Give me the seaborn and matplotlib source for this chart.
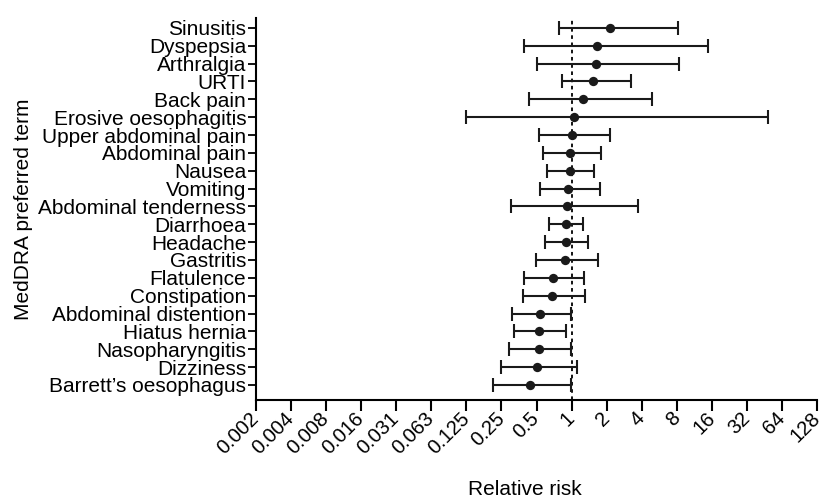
import numpy as np
import pandas as pd
import matplotlib
matplotlib.use("Agg")
import matplotlib.pyplot as plt
import seaborn as sns

terms = ["Sinusitis", "Dyspepsia", "Arthralgia", "URTI", "Back pain",
         "Erosive oesophagitis", "Upper abdominal pain", "Abdominal pain",
         "Nausea", "Vomiting", "Abdominal tenderness", "Diarrhoea", "Headache",
         "Gastritis", "Flatulence", "Constipation", "Abdominal distention",
         "Hiatus hernia", "Nasopharyngitis", "Dizziness", "Barrett\u2019s oesophagus"]
rr = [2.13, 1.65, 1.62, 1.54, 1.26, 1.04, 1.00, 0.97, 0.96, 0.94, 0.91, 0.89,
      0.89, 0.876, 0.69, 0.68, 0.535, 0.52, 0.52, 0.50, 0.44]
lower = [0.78, 0.39, 0.50, 0.82, 0.435, 0.125, 0.52, 0.57, 0.62, 0.535, 0.30,
         0.64, 0.59, 0.49, 0.39, 0.38, 0.31, 0.32, 0.29, 0.25, 0.21]
upper = [8.2, 14.8, 8.4, 3.2, 4.9, 48.0, 2.13, 1.77, 1.55, 1.75, 3.7, 1.26,
         1.37, 1.70, 1.27, 1.29, 0.985, 0.90, 0.99, 1.11, 0.99]
tick_vals = [2**k for k in range(-9, 8)]
tick_labels = ["0.002", "0.004", "0.008", "0.016", "0.031", "0.063", "0.125",
               "0.25", "0.5", "1", "2", "4", "8", "16", "32", "64", "128"]

df = pd.DataFrame({"term": terms, "rr": rr, "lo": lower, "hi": upper})
df["pos"] = np.arange(len(df))

sns.set_style("ticks")
plt.rcParams["font.family"] = ["Liberation Sans", "DejaVu Sans"]
plt.rcParams["text.color"] = "black"
plt.rcParams["axes.labelcolor"] = "black"
plt.rcParams["xtick.color"] = "black"
plt.rcParams["ytick.color"] = "black"

fig = plt.figure(figsize=(8.28, 4.98), dpi=100)
ax = fig.add_axes([0.309, 0.197, 0.678, 0.767])

ax.axvline(1, color="black", linestyle=(0, (2, 2)), linewidth=1.3, zorder=1)
ax.errorbar(df["rr"], df["pos"],
            xerr=[df["rr"] - df["lo"], df["hi"] - df["rr"]],
            fmt="none", ecolor="#1a1a1a", elinewidth=1.5, capsize=5,
            capthick=1.5, zorder=2)
sns.scatterplot(data=df, x="rr", y="pos", ax=ax, color="#1a1a1a", s=45,
                edgecolor="#1a1a1a", linewidth=0, zorder=3, legend=False)

ax.set_xscale("log", base=2)
ax.set_xlim(2**-9, 2**7)
ax.set_ylim(len(df) - 1 + 0.84, -0.56)
ax.set_xticks(tick_vals)
ax.set_xticklabels(tick_labels, rotation=45, ha="right", va="center",
                   rotation_mode="anchor", fontsize=14.5)
ax.xaxis.set_minor_locator(matplotlib.ticker.NullLocator())
ax.set_yticks(df["pos"])
ax.set_yticklabels(df["term"], fontsize=15)
ax.tick_params(axis="x", length=8, width=1.5, pad=3)
ax.tick_params(axis="y", length=6, width=1.3, pad=1)
for s in ["left", "bottom"]:
    ax.spines[s].set_linewidth(1.5)
    ax.spines[s].set_color("black")
sns.despine(ax=ax)

ax.set_xlabel("Relative risk", fontsize=15)
ax.xaxis.set_label_coords(0.48, -0.21)
ax.set_ylabel("MedDRA preferred term", fontsize=15, labelpad=4)

fig.savefig("out.png", dpi=100)
